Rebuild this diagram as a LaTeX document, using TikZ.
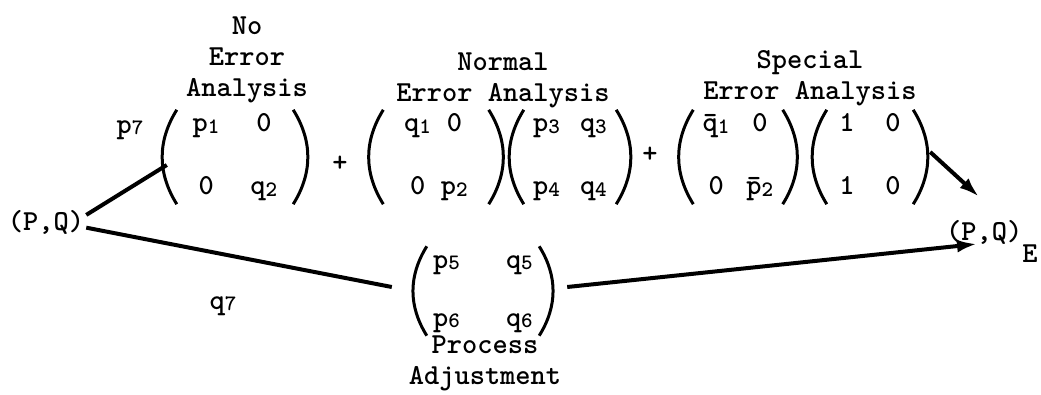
\documentclass[tikz,border=0pt]{standalone}
\usetikzlibrary{arrows.meta}
\newcommand{\ix}[1]{\raisebox{-1.5pt}{\fontsize{22}{22}\selectfont#1}}
\newcommand{\mat}[6]{\begin{tabular}{@{}c@{\hspace{#1}}c@{}}#3&#4\\[#2]#5&#6\end{tabular}}

\begin{document}
\begin{tikzpicture}[x=1pt,y=-1pt,
  font=\ttfamily\bfseries\fontsize{29}{31}\selectfont,
  every node/.style={inner sep=2pt},
  mat/.style={inner xsep=0pt,inner ysep=0pt},
  conn/.style={line width=4pt},
  arr/.style={line width=4pt,-{Latex[length=20pt,width=13pt]}},
  paren/.style={line width=3pt}]
  \useasboundingbox (0,0) rectangle (1041,394);

  % Ueberschriften der Zweige
  \node[align=center] (noerr) at (247,60) {No\\Error\\Analysis};
  \node[align=center] (normal) at (503,80) {Normal\\Error Analysis};
  \node[align=center] (special) at (810,78) {Special\\Error Analysis};
  \node[align=center] (process) at (485,363) {Process\\Adjustment};

  % Matrizen
  \node[mat,minimum width=116pt] (mA) at (235,157) {\mat{31pt}{32pt}{p\ix1}{0}{0}{q\ix2}};
  \node[mat,minimum width=105pt] (mB) at (436,157) {\mat{10pt}{32pt}{q\ix1}{0}{0}{p\ix2}};
  \node[mat,minimum width=92pt] (mC) at (570,157) {\mat{20pt}{32pt}{p\ix3}{q\ix3}{p\ix4}{q\ix4}};
  \node[mat,minimum width=89pt] (mD) at (738,157) {\mat{17pt}{32pt}{\=q\ix1}{0}{0}{\=p\ix2}};
  \node[mat,minimum width=86pt] (mE) at (870,157) {\mat{31pt}{32pt}{1}{0}{1}{0}};
  \node[mat,minimum width=112pt] (mF) at (483,291) {\mat{46pt}{27pt}{p\ix5}{q\ix5}{p\ix6}{q\ix6}};
  \foreach \m in {mA,mB,mC,mD,mE,mF} {
    \draw[paren] (\m.north west) to[bend right=32] (\m.south west); % linke Klammer
    \draw[paren] (\m.north east) to[bend left=32] (\m.south east); % rechte Klammer
  }

  % Pluszeichen
  \node (plusA) at (340,164) {+};
  \node (plusB) at (650,155) {+};

  % Zustaende und Wahrscheinlichkeiten
  \node (pq) at (46,222) {(P,Q)};
  \node[anchor=base west] (pqE) at (944,240) {(P,Q)\raisebox{-22pt}{E}};
  \node (p7) at (130,130) {p\ix7};
  \node (q7) at (223,306) {q\ix7};

  % Verbindungen
  \draw[conn] (pq.10) -- ([shift={(-10,8)}]mA.west);
  \draw[conn] (pq.-8) -- ([shift={(-35,-4)}]mF.west);
  \draw[arr] ([shift={(28,-4)}]mF.east) -- ([shift={(33,3)}]pqE.west);
  \draw[arr] ([shift={(17,-5)}]mE.east) -- ([shift={(35,-21)}]pqE.north west);
\end{tikzpicture}
\end{document}
